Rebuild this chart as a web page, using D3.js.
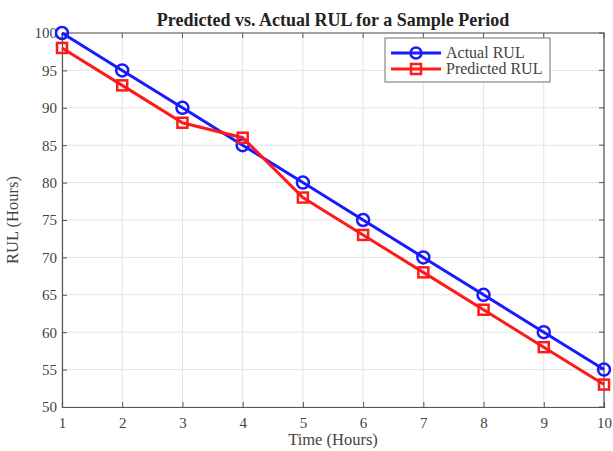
<!DOCTYPE html>
<html>
<head>
<meta charset="utf-8">
<script src="https://cdn.jsdelivr.net/npm/d3@7"></script>
<style>
  body { margin: 0; background: #fff; }
  text { font-family: "Liberation Serif", "Times New Roman", serif; }
</style>
</head>
<body>
<script>
// chart data
const hours = [1, 2, 3, 4, 5, 6, 7, 8, 9, 10];
const actualRUL = [100, 95, 90, 85, 80, 75, 70, 65, 60, 55];
const predictedRUL = [98, 93, 88, 86, 78, 73, 68, 63, 58, 53];
const yTicks = [50, 55, 60, 65, 70, 75, 80, 85, 90, 95, 100];

const width = 613, height = 451;
const plotL = 62, plotR = 604, plotT = 33, plotB = 407;

const svg = d3.select('body').append('svg')
  .attr('width', width)
  .attr('height', height);

const x = d3.scaleLinear().domain([1, 10]).range([plotL, plotR]);
const y = d3.scaleLinear().domain([50, 100]).range([plotB, plotT]);

// grid
svg.append('g').selectAll('line').data(hours).join('line')
  .attr('x1', d => x(d)).attr('x2', d => x(d))
  .attr('y1', plotT).attr('y2', plotB)
  .attr('stroke', '#e3e3e3').attr('stroke-width', 1);
svg.append('g').selectAll('line').data(yTicks).join('line')
  .attr('x1', plotL).attr('x2', plotR)
  .attr('y1', d => y(d)).attr('y2', d => y(d))
  .attr('stroke', '#e3e3e3').attr('stroke-width', 1);

// axes
const xAxis = svg.append('g')
  .attr('transform', `translate(0,${plotB})`)
  .call(d3.axisBottom(x).tickValues(hours).tickSize(-5).tickPadding(10));
const yAxis = svg.append('g')
  .attr('transform', `translate(${plotL},0)`)
  .call(d3.axisLeft(y).tickValues(yTicks).tickSize(-5).tickPadding(5));
[xAxis, yAxis].forEach(g => {
  g.select('.domain').attr('stroke', '#555').attr('stroke-width', 1.2);
  g.selectAll('.tick line').attr('stroke', '#555');
  g.selectAll('.tick text').attr('font-size', 15).attr('fill', '#444')
    .style('font-family', '"Liberation Serif", serif');
});
// box top/right
svg.append('path')
  .attr('d', `M${plotL},${plotT}H${plotR}V${plotB}`)
  .attr('fill', 'none').attr('stroke', '#555').attr('stroke-width', 1.2);
// top/right ticks
svg.append('g').selectAll('line').data(hours).join('line')
  .attr('x1', d => x(d)).attr('x2', d => x(d))
  .attr('y1', plotT).attr('y2', plotT + 5).attr('stroke', '#555');
svg.append('g').selectAll('line').data(yTicks).join('line')
  .attr('x1', plotR).attr('x2', plotR - 5)
  .attr('y1', d => y(d)).attr('y2', d => y(d)).attr('stroke', '#555');

// labels
svg.append('text').attr('x', 333).attr('y', 26).attr('text-anchor', 'middle')
  .attr('font-size', 18).attr('font-weight', 'bold').attr('fill', '#222')
  .text('Predicted vs. Actual RUL for a Sample Period');
svg.append('text').attr('x', 333).attr('y', 445).attr('text-anchor', 'middle')
  .attr('font-size', 16.5).attr('fill', '#444').text('Time (Hours)');
svg.append('text').attr('transform', `translate(18,${(plotT + plotB) / 2}) rotate(-90)`)
  .attr('text-anchor', 'middle').attr('font-size', 16.5).attr('fill', '#444')
  .text('RUL (Hours)');

const line = d3.line().x((d, i) => x(hours[i])).y(d => y(d));

// actual
svg.append('path').datum(actualRUL).attr('d', line)
  .attr('fill', 'none').attr('stroke', '#1a1aff').attr('stroke-width', 3);
svg.append('g').selectAll('circle').data(actualRUL).join('circle')
  .attr('cx', (d, i) => x(hours[i])).attr('cy', d => y(d)).attr('r', 6)
  .attr('fill', 'none').attr('stroke', '#1a1aff').attr('stroke-width', 2.5);

// predicted
svg.append('path').datum(predictedRUL).attr('d', line)
  .attr('fill', 'none').attr('stroke', '#ff1a1a').attr('stroke-width', 3);
svg.append('g').selectAll('rect').data(predictedRUL).join('rect')
  .attr('x', (d, i) => x(hours[i]) - 5).attr('y', d => y(d) - 5)
  .attr('width', 10).attr('height', 10)
  .attr('fill', 'none').attr('stroke', '#ff1a1a').attr('stroke-width', 2.5);

// legend
const lg = svg.append('g').attr('transform', 'translate(385,38)');
lg.append('rect').attr('width', 165).attr('height', 44)
  .attr('fill', '#fff').attr('stroke', '#888').attr('stroke-width', 1.2);
const items = [
  { name: 'Actual RUL', color: '#1a1aff', shape: 'circle' },
  { name: 'Predicted RUL', color: '#ff1a1a', shape: 'square' }
];
items.forEach((it, i) => {
  const cy = 15 + i * 16;
  lg.append('line').attr('x1', 6).attr('x2', 56).attr('y1', cy).attr('y2', cy)
    .attr('stroke', it.color).attr('stroke-width', 3);
  if (it.shape === 'circle') {
    lg.append('circle').attr('cx', 31).attr('cy', cy).attr('r', 5.5)
      .attr('fill', 'none').attr('stroke', it.color).attr('stroke-width', 2.5);
  } else {
    lg.append('rect').attr('x', 26).attr('y', cy - 5).attr('width', 10).attr('height', 10)
      .attr('fill', 'none').attr('stroke', it.color).attr('stroke-width', 2.5);
  }
  lg.append('text').attr('x', 61).attr('y', cy + 5).attr('font-size', 16)
    .attr('fill', '#444').text(it.name);
});
</script>
</body>
</html>
